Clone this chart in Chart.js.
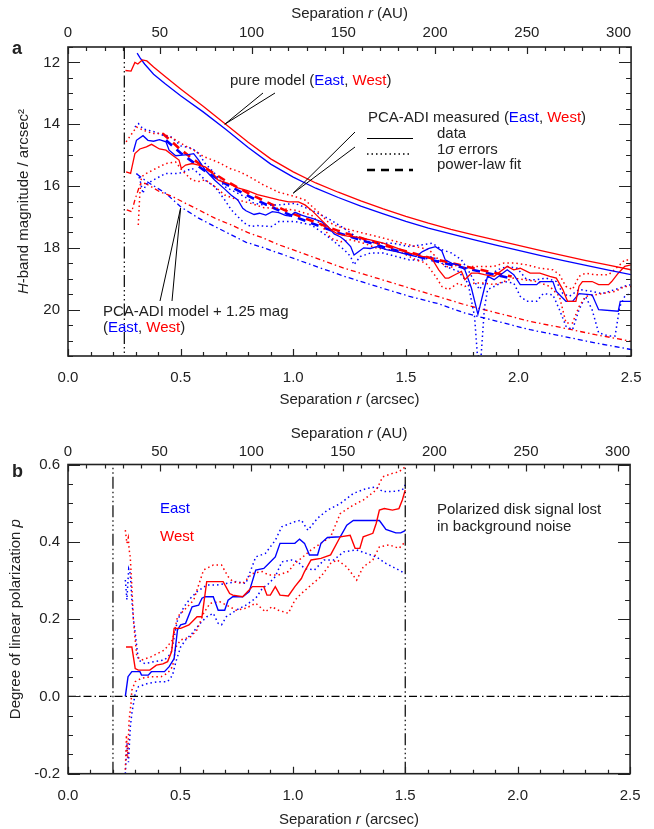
<!DOCTYPE html>
<html>
<head>
<meta charset="utf-8">
<script src="https://cdn.jsdelivr.net/npm/chart.js@4/dist/chart.umd.min.js"></script>
<style>
  html, body { margin: 0; padding: 0; background: #fff; }
  #wrap { position: relative; width: 654px; height: 829px; }
  canvas { position: absolute; left: 0; }
  #chartA { top: 0; }
  #chartB { top: 415px; }
</style>
</head>
<body>
<div id="wrap">
  <canvas id="chartA" width="654" height="415"></canvas>
  <canvas id="chartB" width="654" height="414"></canvas>
</div>
<script>
// ---- tick labels ----
const arcsecTicks = [0, 0.5, 1.0, 1.5, 2.0, 2.5];
const auTicks = [0, 50, 100, 150, 200, 250, 300];
const magTicks = [12, 14, 16, 18, 20];
const polTicks = [-0.2, 0.0, 0.2, 0.4, 0.6];
const auMax = 306.8; // top axis end, 2.5 arcsec in AU

// ---- panel a: surface brightness (mag / arcsec^2) ----
const pureWestR = [0.255, 0.28, 0.297, 0.31, 0.33, 0.35, 0.38, 0.43, 0.5, 0.6, 0.7, 0.8, 0.9, 1.0, 1.1, 1.2, 1.3, 1.4, 1.5, 1.6, 1.7, 1.8, 1.9, 2.0, 2.1, 2.2, 2.3, 2.4, 2.5];
const pureWestMag = [12.26, 12.28, 12.0, 12.05, 11.92, 11.95, 12.15, 12.45, 12.86, 13.42, 14.0, 14.58, 15.12, 15.54, 15.9, 16.2, 16.48, 16.74, 16.98, 17.2, 17.4, 17.58, 17.75, 17.92, 18.09, 18.25, 18.41, 18.56, 18.71];
const pureEastR = [0.307, 0.32, 0.34, 0.38, 0.43, 0.5, 0.6, 0.7, 0.8, 0.9, 1.0, 1.1, 1.2, 1.3, 1.4, 1.5, 1.6, 1.7, 1.8, 1.9, 2.0, 2.1, 2.2, 2.3, 2.4, 2.5];
const pureEastMag = [11.70, 11.85, 12.05, 12.38, 12.68, 13.08, 13.6, 14.16, 14.75, 15.29, 15.71, 16.07, 16.37, 16.65, 16.9, 17.14, 17.36, 17.55, 17.73, 17.91, 18.08, 18.25, 18.41, 18.57, 18.72, 18.87];

const eastDataR = [0.29, 0.304, 0.333, 0.355, 0.38, 0.406, 0.435, 0.449, 0.478, 0.507, 0.535, 0.558, 0.58, 0.609, 0.652, 0.696, 0.725, 0.754, 0.776, 0.79, 0.826, 0.85, 0.878, 0.907, 0.936, 0.965, 0.985, 1.008, 1.037, 1.06, 1.081, 1.124, 1.153, 1.182, 1.21, 1.226, 1.255, 1.27, 1.291, 1.313, 1.342, 1.371, 1.414, 1.458, 1.501, 1.545, 1.574, 1.603, 1.632, 1.66, 1.675, 1.704, 1.733, 1.762, 1.791, 1.82, 1.849, 1.863, 1.892, 1.921, 1.95, 1.979, 2.008, 2.081, 2.095, 2.153, 2.168, 2.211, 2.24, 2.269, 2.327, 2.356, 2.443, 2.452, 2.5];
const eastDataMag = [14.89, 14.52, 14.37, 14.52, 14.55, 14.5, 14.57, 14.84, 15.02, 15.0, 14.98, 14.95, 15.16, 15.48, 15.81, 16.1, 16.3, 16.45, 16.72, 16.8, 16.92, 16.88, 16.94, 16.83, 16.86, 16.95, 16.97, 16.85, 16.94, 17.0, 17.04, 17.15, 17.31, 17.55, 17.65, 17.74, 17.96, 18.23, 18.12, 18.0, 18.02, 17.96, 18.06, 18.12, 18.2, 18.28, 18.12, 18.02, 17.96, 18.1, 18.39, 18.5, 18.55, 18.71, 19.3, 20.15, 19.3, 18.92, 19.03, 18.87, 18.71, 18.87, 19.19, 19.19, 19.09, 19.09, 19.41, 19.73, 19.73, 19.48, 19.52, 20.0, 20.05, 19.73, 19.73];

const westDataR = [0.258, 0.278, 0.297, 0.319, 0.348, 0.371, 0.406, 0.435, 0.464, 0.493, 0.503, 0.522, 0.551, 0.58, 0.609, 0.638, 0.667, 0.71, 0.754, 0.797, 0.841, 0.878, 0.936, 0.979, 1.023, 1.052, 1.081, 1.11, 1.139, 1.168, 1.197, 1.24, 1.284, 1.342, 1.4, 1.443, 1.487, 1.516, 1.545, 1.574, 1.603, 1.62, 1.646, 1.675, 1.69, 1.718, 1.747, 1.762, 1.791, 1.82, 1.849, 1.892, 1.921, 1.95, 1.979, 2.008, 2.052, 2.095, 2.139, 2.168, 2.197, 2.218, 2.255, 2.269, 2.284, 2.327, 2.356, 2.4, 2.414, 2.443, 2.472, 2.5];
const westDataMag = [15.54, 15.59, 14.95, 14.8, 14.73, 14.65, 14.8, 14.84, 15.0, 15.16, 15.43, 15.32, 15.27, 15.32, 15.38, 15.54, 15.81, 15.91, 16.06, 16.15, 16.28, 16.34, 16.45, 16.51, 16.51, 16.61, 16.78, 16.99, 17.2, 17.42, 17.55, 17.62, 17.65, 17.74, 17.85, 17.96, 18.08, 18.17, 18.23, 18.28, 18.3, 18.4, 18.71, 18.98, 18.98, 18.87, 18.76, 19.03, 18.82, 18.82, 18.87, 18.92, 18.76, 18.6, 18.71, 18.66, 18.82, 18.82, 18.92, 18.98, 19.35, 19.73, 19.73, 19.24, 19.09, 19.09, 19.19, 19.19, 19.09, 18.82, 18.6, 18.55];

const eastHiR = [0.297, 0.313, 0.333, 0.36, 0.386, 0.42, 0.458, 0.501, 0.551, 0.58, 0.609, 0.652, 0.696, 0.739, 0.783, 0.826, 0.87, 0.936, 1.008, 1.081, 1.153, 1.226, 1.298, 1.371, 1.443, 1.516, 1.574, 1.617, 1.66, 1.704, 1.747, 1.776, 1.805, 1.827, 1.849, 1.878, 1.907, 1.95, 1.994, 2.037, 2.081, 2.124, 2.168, 2.197, 2.226, 2.269, 2.327, 2.371, 2.429, 2.472, 2.5];
const eastHiMag = [14.09, 13.98, 14.15, 14.2, 14.25, 14.35, 14.41, 14.7, 14.78, 14.95, 15.27, 15.59, 16.02, 16.18, 16.34, 16.56, 16.61, 16.61, 16.56, 16.78, 17.04, 17.37, 17.74, 17.85, 17.85, 17.96, 17.9, 17.85, 18.06, 18.17, 18.39, 18.71, 19.09, 19.35, 19.09, 18.87, 18.71, 18.6, 18.66, 19.03, 19.03, 18.98, 19.09, 19.48, 19.57, 19.35, 19.41, 19.48, 19.35, 19.24, 19.19];
const eastLoR = [0.304, 0.318, 0.333, 0.345, 0.377, 0.435, 0.493, 0.551, 0.58, 0.609, 0.652, 0.696, 0.725, 0.754, 0.783, 0.812, 0.84, 0.878, 0.907, 0.936, 1.008, 1.081, 1.153, 1.226, 1.255, 1.269, 1.298, 1.342, 1.4, 1.458, 1.516, 1.574, 1.617, 1.661, 1.675, 1.733, 1.776, 1.805, 1.818, 1.834, 1.849, 1.863, 1.892, 1.936, 1.979, 2.008, 2.037, 2.081, 2.11, 2.153, 2.182, 2.211, 2.24, 2.269, 2.298, 2.327, 2.356, 2.4, 2.429, 2.45, 2.472, 2.5];
const eastLoMag = [15.59, 15.75, 16.24, 15.95, 15.81, 15.59, 15.59, 15.43, 15.59, 15.81, 16.02, 16.45, 16.77, 16.99, 17.2, 17.31, 17.28, 17.3, 17.31, 17.15, 17.15, 17.26, 17.63, 18.06, 18.28, 18.55, 18.28, 18.17, 18.17, 18.28, 18.39, 18.39, 18.28, 18.5, 18.6, 18.76, 19.14, 20.22, 21.5, 21.5, 19.94, 19.35, 19.25, 19.09, 19.14, 19.57, 19.73, 19.73, 19.48, 19.52, 20.0, 20.54, 20.65, 20.0, 19.57, 20.0, 20.75, 20.85, 20.85, 19.9, 19.57, 19.46];

const westHiR = [0.258, 0.284, 0.304, 0.313, 0.333, 0.377, 0.42, 0.464, 0.516, 0.559, 0.603, 0.661, 0.719, 0.762, 0.806, 0.864, 0.936, 1.008, 1.052, 1.11, 1.153, 1.197, 1.255, 1.313, 1.371, 1.429, 1.487, 1.545, 1.603, 1.646, 1.675, 1.704, 1.733, 1.762, 1.791, 1.849, 1.892, 1.936, 1.979, 2.037, 2.095, 2.153, 2.182, 2.211, 2.24, 2.269, 2.298, 2.342, 2.4, 2.443, 2.472, 2.5];
const westHiMag = [14.57, 14.3, 14.09, 14.12, 14.19, 14.3, 14.3, 14.45, 14.68, 14.84, 15.05, 15.21, 15.43, 15.54, 15.7, 15.95, 16.2, 16.34, 16.45, 16.83, 17.15, 17.31, 17.42, 17.53, 17.63, 17.74, 17.85, 17.96, 18.06, 18.39, 18.6, 18.62, 18.55, 18.66, 18.6, 18.6, 18.6, 18.49, 18.49, 18.55, 18.66, 18.71, 18.87, 19.25, 19.35, 18.92, 18.82, 18.87, 18.87, 18.6, 18.39, 18.39];
const westLoR = [0.312, 0.319, 0.326, 0.348, 0.391, 0.435, 0.478, 0.507, 0.551, 0.58, 0.609, 0.652, 0.696, 0.754, 0.812, 0.87, 0.936, 1.008, 1.081, 1.124, 1.168, 1.211, 1.255, 1.313, 1.371, 1.429, 1.487, 1.545, 1.588, 1.632, 1.66, 1.689, 1.733, 1.762, 1.805, 1.849, 1.892, 1.936, 1.979, 2.023, 2.081, 2.139, 2.182, 2.211, 2.24, 2.269, 2.298, 2.371, 2.429, 2.472, 2.5];
const westLoMag = [17.26, 16.24, 15.7, 15.59, 15.43, 15.27, 15.22, 15.5, 15.81, 15.85, 15.8, 16.02, 16.29, 16.45, 16.56, 16.7, 16.72, 16.78, 16.94, 17.26, 17.69, 17.8, 17.74, 17.85, 18.01, 18.06, 18.17, 18.39, 18.49, 18.92, 19.25, 19.35, 19.14, 19.25, 19.14, 19.14, 19.19, 19.09, 18.98, 19.03, 19.09, 19.25, 19.57, 20.43, 20.43, 19.9, 19.57, 19.48, 19.41, 19.25, 19.25];

const eastFitR = [0.435, 0.5, 0.6, 0.7, 0.8, 0.9, 1.0, 1.2, 1.4, 1.6, 1.8, 1.97];
const eastFitMag = [14.52, 14.93, 15.47, 15.93, 16.32, 16.67, 16.98, 17.52, 17.97, 18.37, 18.72, 18.99];
const westFitR = [0.42, 0.5, 0.6, 0.7, 0.8, 0.9, 1.0, 1.2, 1.4, 1.6, 1.8, 1.97];
const westFitMag = [14.30, 14.82, 15.37, 15.83, 16.23, 16.58, 16.90, 17.45, 17.91, 18.31, 18.66, 18.93];

const eastModelR = [0.307, 0.33, 0.362, 0.435, 0.5, 0.58, 0.652, 0.725, 0.791, 0.87, 0.936, 1.081, 1.226, 1.371, 1.516, 1.64, 1.762, 1.907, 2.052, 2.197, 2.342, 2.5];
const eastModelMag = [15.62, 15.75, 15.91, 16.24, 16.67, 17.04, 17.31, 17.58, 17.82, 18.0, 18.17, 18.55, 18.92, 19.25, 19.57, 19.8, 20.11, 20.38, 20.65, 20.86, 21.08, 21.29];
const westModelR = [0.261, 0.283, 0.297, 0.319, 0.341, 0.36, 0.406, 0.464, 0.522, 0.58, 0.652, 0.725, 0.797, 0.87, 0.936, 1.081, 1.226, 1.371, 1.516, 1.64, 1.762, 1.907, 2.052, 2.197, 2.342, 2.5];
const westModelMag = [16.77, 16.83, 16.45, 15.97, 15.91, 15.98, 16.18, 16.34, 16.56, 16.77, 17.04, 17.26, 17.5, 17.69, 17.9, 18.28, 18.66, 18.98, 19.3, 19.57, 19.84, 20.11, 20.38, 20.59, 20.81, 21.02];

const innerEdgeA = 0.25;

// ---- panel b: degree of linear polarization ----
const eastPolR = [0.255, 0.267, 0.284, 0.32, 0.327, 0.357, 0.371, 0.429, 0.45, 0.472, 0.487, 0.501, 0.523, 0.552, 0.581, 0.596, 0.61, 0.646, 0.668, 0.697, 0.712, 0.733, 0.777, 0.806, 0.835, 0.871, 0.893, 0.922, 0.943, 1.009, 1.03, 1.052, 1.074, 1.11, 1.125, 1.154, 1.211, 1.24, 1.269, 1.385, 1.414, 1.458, 1.48, 1.5];
const eastPol = [0.0, 0.051, 0.064, 0.064, 0.055, 0.055, 0.064, 0.064, 0.077, 0.098, 0.172, 0.185, 0.189, 0.232, 0.236, 0.254, 0.258, 0.258, 0.223, 0.223, 0.249, 0.258, 0.258, 0.271, 0.327, 0.331, 0.344, 0.361, 0.396, 0.396, 0.407, 0.396, 0.366, 0.366, 0.396, 0.411, 0.413, 0.443, 0.455, 0.455, 0.432, 0.423, 0.423, 0.429];
const westPolR = [0.258, 0.284, 0.299, 0.313, 0.364, 0.393, 0.422, 0.443, 0.461, 0.472, 0.501, 0.538, 0.574, 0.596, 0.617, 0.69, 0.719, 0.733, 0.777, 0.82, 0.871, 0.885, 0.9, 0.922, 0.943, 0.98, 1.009, 1.038, 1.052, 1.081, 1.125, 1.168, 1.211, 1.255, 1.277, 1.298, 1.313, 1.356, 1.371, 1.385, 1.407, 1.443, 1.472, 1.487, 1.5];
const westPol = [0.128, 0.128, 0.072, 0.068, 0.068, 0.081, 0.084, 0.09, 0.116, 0.176, 0.176, 0.185, 0.206, 0.206, 0.297, 0.297, 0.266, 0.262, 0.258, 0.284, 0.284, 0.262, 0.262, 0.284, 0.262, 0.26, 0.284, 0.305, 0.323, 0.353, 0.357, 0.366, 0.413, 0.417, 0.383, 0.383, 0.413, 0.422, 0.448, 0.482, 0.486, 0.482, 0.486, 0.508, 0.534];

const eastPolHiR = [0.255, 0.262, 0.27, 0.277, 0.284, 0.291, 0.299, 0.313, 0.342, 0.385, 0.429, 0.458, 0.487, 0.516, 0.545, 0.574, 0.617, 0.661, 0.704, 0.748, 0.791, 0.835, 0.878, 0.922, 0.951, 1.009, 1.038, 1.067, 1.11, 1.154, 1.211, 1.269, 1.327, 1.371, 1.4, 1.443, 1.487, 1.5];
const eastPolHi = [0.301, 0.25, 0.33, 0.318, 0.249, 0.2, 0.163, 0.094, 0.085, 0.09, 0.094, 0.111, 0.197, 0.232, 0.254, 0.271, 0.288, 0.288, 0.292, 0.297, 0.292, 0.361, 0.37, 0.404, 0.439, 0.452, 0.456, 0.43, 0.461, 0.482, 0.499, 0.525, 0.538, 0.542, 0.53, 0.53, 0.534, 0.547];
const eastPolLoR = [0.255, 0.262, 0.269, 0.277, 0.284, 0.299, 0.313, 0.357, 0.4, 0.443, 0.465, 0.48, 0.501, 0.523, 0.552, 0.588, 0.617, 0.646, 0.668, 0.683, 0.704, 0.748, 0.791, 0.835, 0.864, 0.893, 0.922, 0.951, 0.994, 1.023, 1.052, 1.096, 1.139, 1.182, 1.226, 1.284, 1.327, 1.371, 1.414, 1.458, 1.5];
const eastPolLo = [-0.2, -0.12, -0.17, -0.08, -0.044, 0.008, 0.025, 0.034, 0.038, 0.038, 0.055, 0.09, 0.128, 0.146, 0.163, 0.189, 0.206, 0.215, 0.189, 0.185, 0.206, 0.223, 0.236, 0.254, 0.279, 0.292, 0.31, 0.348, 0.353, 0.348, 0.331, 0.327, 0.353, 0.353, 0.374, 0.379, 0.37, 0.361, 0.344, 0.331, 0.318];
const westPolHiR = [0.255, 0.262, 0.268, 0.272, 0.277, 0.284, 0.291, 0.306, 0.327, 0.371, 0.429, 0.465, 0.487, 0.516, 0.559, 0.603, 0.646, 0.683, 0.712, 0.733, 0.777, 0.82, 0.864, 0.893, 0.936, 0.98, 1.009, 1.045, 1.081, 1.125, 1.168, 1.211, 1.269, 1.313, 1.342, 1.371, 1.4, 1.443, 1.472, 1.5];
const westPolHi = [0.43, 0.396, 0.41, 0.38, 0.36, 0.284, 0.197, 0.103, 0.094, 0.103, 0.12, 0.146, 0.206, 0.223, 0.249, 0.327, 0.34, 0.34, 0.31, 0.297, 0.292, 0.318, 0.323, 0.314, 0.314, 0.323, 0.344, 0.361, 0.379, 0.396, 0.413, 0.473, 0.495, 0.508, 0.521, 0.534, 0.568, 0.577, 0.581, 0.594];
const westPolLoR = [0.255, 0.26, 0.265, 0.272, 0.28, 0.284, 0.299, 0.327, 0.371, 0.414, 0.443, 0.465, 0.48, 0.501, 0.545, 0.574, 0.603, 0.632, 0.675, 0.719, 0.748, 0.791, 0.835, 0.878, 0.907, 0.936, 0.98, 1.009, 1.038, 1.081, 1.125, 1.168, 1.197, 1.24, 1.284, 1.313, 1.356, 1.385, 1.429, 1.472, 1.5];
const westPolLo = [-0.19, -0.1, -0.16, -0.06, -0.02, 0.016, 0.038, 0.047, 0.051, 0.051, 0.06, 0.077, 0.128, 0.146, 0.154, 0.172, 0.215, 0.241, 0.245, 0.232, 0.223, 0.228, 0.241, 0.219, 0.232, 0.223, 0.215, 0.249, 0.266, 0.288, 0.31, 0.344, 0.353, 0.335, 0.301, 0.335, 0.353, 0.387, 0.392, 0.383, 0.4];

const innerEdgeB = 0.2;
const outerEdgeB = 1.5;

// ---- styling ----
const INK = "#222";
const BLUE = "#0000ff";
const RED = "#ff0000";
const FONT = "'Liberation Sans', Arial, Helvetica, sans-serif";
const DOT = [1.5, 3];
const DASHDOT = [5, 3, 1.5, 3];
const DASH3DOT = [12, 3, 1.5, 3, 1.5, 3, 1.5, 3];

function pts(xs, ys) {
	return xs.map((x, i) => ({ x: x, y: ys[i] }));
}

function line(xs, ys, color, width, dash) {
	return {
		data: pts(xs, ys),
		borderColor: color,
		borderWidth: width,
		borderDash: dash || [],
		pointRadius: 0,
		fill: false,
		tension: 0,
		xAxisID: "x",
		yAxisID: "y",
	};
}

function range(from, to, step) {
	const out = [];
	for (let v = from; v <= to + 1e-9; v += step) out.push(Math.round(v * 1000) / 1000);
	return out;
}

// draws a line of text made of differently styled pieces
function rich(ctx, x, y, parts, align, size, weight) {
	size = size || 15;
	const fontOf = (p) => (p[2] ? "italic " : "") + (weight || "") + " " + size + "px " + FONT;
	let w = 0;
	parts.forEach((p) => { ctx.font = fontOf(p); w += ctx.measureText(p[0]).width; });
	let cx = align === "center" ? x - w / 2 : x;
	ctx.textAlign = "left";
	ctx.textBaseline = "middle";
	parts.forEach((p) => {
		ctx.font = fontOf(p);
		ctx.fillStyle = p[1] || INK;
		ctx.fillText(p[0], cx, y);
		cx += ctx.measureText(p[0]).width;
	});
}

function seg(ctx, x1, y1, x2, y2, color, width, dash) {
	ctx.save();
	ctx.strokeStyle = color;
	ctx.lineWidth = width;
	ctx.setLineDash(dash || []);
	ctx.beginPath();
	ctx.moveTo(x1, y1);
	ctx.lineTo(x2, y2);
	ctx.stroke();
	ctx.restore();
}

// frame, inward ticks on all four sides, axis titles
function frameTicks(cfg) {
	return {
		id: "frameTicks",
		afterDraw(chart) {
			const ctx = chart.ctx;
			const a = chart.chartArea;
			const s = chart.scales;
			ctx.save();
			ctx.strokeStyle = INK;
			ctx.lineWidth = 1.2;
			ctx.setLineDash([]);
			ctx.beginPath();
			const xs = (scale, vals, len) => vals.forEach((v) => {
				const p = Math.round(scale.getPixelForValue(v)) + 0.5;
				ctx.moveTo(p, a.bottom); ctx.lineTo(p, a.bottom - len);
			});
			const ts = (scale, vals, len) => vals.forEach((v) => {
				const p = Math.round(scale.getPixelForValue(v)) + 0.5;
				ctx.moveTo(p, a.top); ctx.lineTo(p, a.top + len);
			});
			const ys = (scale, vals, len) => vals.forEach((v) => {
				const p = Math.round(scale.getPixelForValue(v)) + 0.5;
				ctx.moveTo(a.left, p); ctx.lineTo(a.left + len, p);
				ctx.moveTo(a.right, p); ctx.lineTo(a.right - len, p);
			});
			xs(s.x, range(0, 2.5, 0.1), 4);
			xs(s.x, arcsecTicks, 7);
			ts(s.x2, range(0, 300, 10), 4);
			ts(s.x2, auTicks, 7);
			ys(s.y, cfg.yMinor, 5);
			ys(s.y, cfg.yMajor, 12);
			ctx.stroke();
			ctx.lineWidth = 1.6;
			ctx.strokeRect(a.left, a.top, a.right - a.left, a.bottom - a.top);
			ctx.restore();

			ctx.save();
			const mid = (a.left + a.right) / 2;
			rich(ctx, mid, cfg.topTitleY, [["Separation "], ["r", INK, true], [" (AU)"]], "center");
			rich(ctx, mid, cfg.bottomTitleY, [["Separation "], ["r", INK, true], [" (arcsec)"]], "center");
			ctx.translate(cfg.yTitleX, (a.top + a.bottom) / 2);
			ctx.rotate(-Math.PI / 2);
			rich(ctx, 0, 0, cfg.yTitle, "center");
			ctx.restore();
			ctx.save();
			rich(ctx, 12, cfg.letterY, [[cfg.letter]], "left", 18, "bold");
			ctx.restore();
			if (cfg.notes) cfg.notes(chart, ctx);
		},
	};
}

function scalesFor(cfg) {
	const tickFont = { family: FONT, size: 15 };
	return {
		x: {
			type: "linear", position: "bottom", min: 0, max: 2.5,
			grid: { display: false, drawTicks: false }, border: { display: false },
			ticks: { color: INK, font: tickFont, padding: cfg.bottomPad, maxRotation: 0, callback: (v) => v.toFixed(1) },
			afterBuildTicks: (sc) => { sc.ticks = arcsecTicks.map((v) => ({ value: v })); },
			afterFit: (sc) => { sc.height = cfg.bottomH; },
		},
		x2: {
			type: "linear", position: "top", min: 0, max: auMax,
			grid: { display: false, drawTicks: false }, border: { display: false },
			ticks: { color: INK, font: tickFont, padding: cfg.topPad, maxRotation: 0, callback: (v) => String(v) },
			afterBuildTicks: (sc) => { sc.ticks = auTicks.map((v) => ({ value: v })); },
			afterFit: (sc) => { sc.height = cfg.topH; },
		},
		y: {
			type: "linear", position: "left", min: cfg.yMin, max: cfg.yMax, reverse: cfg.reverse,
			grid: { display: false, drawTicks: false }, border: { display: false },
			ticks: { color: INK, font: tickFont, padding: 8, callback: cfg.yFmt },
			afterBuildTicks: (sc) => { sc.ticks = cfg.yMajor.map((v) => ({ value: v })); },
			afterFit: (sc) => { sc.width = 68; },
		},
		y2: {
			type: "linear", position: "right", min: cfg.yMin, max: cfg.yMax, reverse: cfg.reverse,
			grid: { display: false, drawTicks: false }, border: { display: false },
			ticks: { display: false },
			afterFit: (sc) => { sc.width = 11; },
		},
	};
}

const baseOptions = {
	responsive: false,
	animation: false,
	devicePixelRatio: 1,
	layout: { padding: 0 },
	plugins: { legend: { display: false }, tooltip: { enabled: false } },
};

// ---------- panel a ----------
const cfgA = {
	letter: "a", letterY: 49,
	topTitleY: 14, bottomTitleY: 400, yTitleX: 24,
	yTitle: [["H", INK, true], ["-band magnitude / arcsec²"]],
	topH: 47, bottomH: 59, topPad: 5, bottomPad: 12.5,
	yMin: 11.5, yMax: 21.5, reverse: true,
	yMajor: magTicks, yMinor: range(11.5, 21.5, 0.5),
	yFmt: (v) => String(v),
	notes(chart, ctx) {
		const sx = chart.scales.x, sy = chart.scales.y;
		const P = (r, m) => [sx.getPixelForValue(r), sy.getPixelForValue(m)];
		// pure model
		rich(ctx, 230, 81, [["pure model ("], ["East", BLUE], [", "], ["West", RED], [")"]]);
		let t = P(0.696, 14.0);
		seg(ctx, 263, 93, t[0], t[1], "#000", 1);
		seg(ctx, 275, 93, t[0], t[1], "#000", 1);
		// measured
		rich(ctx, 368, 118, [["PCA-ADI measured ("], ["East", BLUE], [", "], ["West", RED], [")"]]);
		t = P(1.0, 16.23);
		seg(ctx, 355, 132, t[0], t[1], "#000", 1);
		seg(ctx, 355, 147, t[0], t[1], "#000", 1);
		seg(ctx, 367, 138.5, 413, 138.5, "#000", 1.2);
		seg(ctx, 367, 154, 411, 154, "#000", 1.3, DOT);
		seg(ctx, 367, 170, 413, 170, "#000", 2.5, [8, 6]);
		rich(ctx, 437, 134, [["data"]]);
		rich(ctx, 437, 150, [["1"], ["σ", INK, true], [" errors"]]);
		rich(ctx, 437, 165, [["power-law fit"]]);
		// model
		rich(ctx, 103, 312, [["PCA-ADI model + 1.25 mag"]]);
		rich(ctx, 103, 328, [["("], ["East", BLUE], [", "], ["West", RED], [")"]]);
		t = P(0.5, 16.71);
		seg(ctx, 160, 301, t[0], t[1], "#000", 1);
		seg(ctx, 172, 301, t[0], t[1], "#000", 1);
	},
};

new Chart(document.getElementById("chartA"), {
	type: "line",
	data: {
		datasets: [
			line([innerEdgeA, innerEdgeA], [11.5, 21.5], "#000", 1.2, DASH3DOT),
			line(pureWestR, pureWestMag, RED, 1.3),
			line(pureEastR, pureEastMag, BLUE, 1.3),
			line(westDataR, westDataMag, RED, 1.3),
			line(eastDataR, eastDataMag, BLUE, 1.3),
			line(westHiR, westHiMag, RED, 1.5, DOT),
			line(westLoR, westLoMag, RED, 1.5, DOT),
			line(eastHiR, eastHiMag, BLUE, 1.5, DOT),
			line(eastLoR, eastLoMag, BLUE, 1.5, DOT),
			line(westFitR, westFitMag, RED, 2.6, [8, 6]),
			line(eastFitR, eastFitMag, BLUE, 2.6, [8, 6]),
			line(westModelR, westModelMag, RED, 1.3, DASHDOT),
			line(eastModelR, eastModelMag, BLUE, 1.3, DASHDOT),
		],
	},
	options: Object.assign({}, baseOptions, { scales: scalesFor(cfgA) }),
	plugins: [frameTicks(cfgA)],
});

// ---------- panel b ----------
const cfgB = {
	letter: "b", letterY: 57,
	topTitleY: 19, bottomTitleY: 405, yTitleX: 16,
	yTitle: [["Degree of linear polarization "], ["p", INK, true]],
	topH: 49.5, bottomH: 55.3, topPad: 4, bottomPad: 13.5,
	yMin: -0.2, yMax: 0.6, reverse: false,
	yMajor: polTicks, yMinor: range(-0.2, 0.6, 0.05),
	yFmt: (v) => v.toFixed(1),
	notes(chart, ctx) {
		rich(ctx, 160, 94, [["East", BLUE]]);
		rich(ctx, 160, 122, [["West", RED]]);
		rich(ctx, 437, 95, [["Polarized disk signal lost"]]);
		rich(ctx, 437, 112, [["in background noise"]]);
	},
};

new Chart(document.getElementById("chartB"), {
	type: "line",
	data: {
		datasets: [
			line([innerEdgeB, innerEdgeB], [-0.2, 0.6], "#000", 1.2, DASH3DOT),
			line([outerEdgeB, outerEdgeB], [-0.2, 0.6], "#000", 1.2, DASH3DOT),
			line([0, 2.5], [0, 0], "#000", 1.2, [8, 3, 1.5, 3]),
			line(westPolR, westPol, RED, 1.4),
			line(eastPolR, eastPol, BLUE, 1.4),
			line(westPolHiR, westPolHi, RED, 1.5, DOT),
			line(westPolLoR, westPolLo, RED, 1.5, DOT),
			line(eastPolHiR, eastPolHi, BLUE, 1.5, DOT),
			line(eastPolLoR, eastPolLo, BLUE, 1.5, DOT),
		],
	},
	options: Object.assign({}, baseOptions, { scales: scalesFor(cfgB) }),
	plugins: [frameTicks(cfgB)],
});
</script>
</body>
</html>
